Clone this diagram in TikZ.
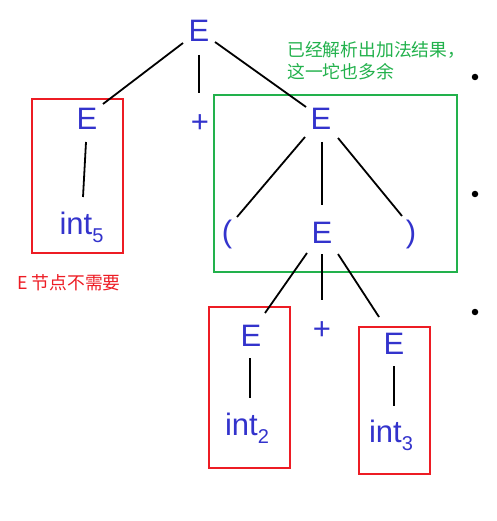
\documentclass[tikz,border=0pt]{standalone}
\usepackage{fontspec}
\setmainfont{Liberation Sans}
\newfontfamily\cjk{Noto Sans CJK SC}
\definecolor{tblue}{RGB}{51,51,204}
\definecolor{tgreen}{RGB}{34,177,76}
\definecolor{tred}{RGB}{237,28,36}
\newcommand\lsub[1]{\raisebox{-8pt}{\fontsize{20}{20}\selectfont #1}}
\tikzset{
  sym/.style={inner sep=0pt, anchor=base, text=tblue, font=\fontsize{31}{31}\selectfont},
  edge/.style={draw=black, line width=1.8pt},
  redbox/.style={draw=tred, line width=2pt},
  greenbox/.style={draw=tgreen, line width=2pt},
  note/.style={inner sep=0pt, anchor=base west, font=\cjk\fontsize{17.8}{17.8}\selectfont},
  bullet/.style={circle, fill=black, inner sep=0pt, minimum size=6.5pt}
}
\begin{document}
\begin{tikzpicture}[x=1pt,y=-1pt]
\useasboundingbox (0,0) rectangle (496,521);
% nodes
\node[sym] (E0) at (199,42) {E};
\node[sym] (El) at (87,130) {E};
\node[sym] (p1) at (200,133) {+};
\node[sym] (Er) at (321,130) {E};
\node[sym] (int5) at (81.5,234) {int\lsub{5}};
\node[sym] (lp) at (227,242) {(};
\node[sym] (Em) at (322,243) {E};
\node[sym] (rp) at (411,242) {)};
\node[sym] (Ell) at (251,346) {E};
\node[sym] (p2) at (322,339) {+};
\node[sym] (Elr) at (394,354) {E};
\node[sym] (int2) at (247,435) {int\lsub{2}};
\node[sym] (int3) at (391,442) {int\lsub{3}};
% boxes
\node[redbox, inner sep=0pt, minimum width=91pt, minimum height=154pt] (bl) at (77.5,176) {};
\node[greenbox, inner sep=0pt, minimum width=243pt, minimum height=177pt] (bg) at (335.5,183.5) {};
\node[redbox, inner sep=0pt, minimum width=81pt, minimum height=161pt] (bll) at (249.5,387.5) {};
\node[redbox, inner sep=0pt, minimum width=71pt, minimum height=147pt] (blr) at (394.5,400.5) {};
% edges
\draw[edge] ([shift={(-16,1)}]E0.base) -- ([shift={(16,-26)}]El.base);
\draw[edge] ([shift={(0,13)}]E0.base) -- ([shift={(-1,-40)}]p1.base);
\draw[edge] ([shift={(16,0)}]E0.base) -- ([shift={(-15,-23)}]Er.base);
\draw[edge] ([shift={(-1,12)}]El.base) -- ([shift={(1.5,-37)}]int5.base);
\draw[edge] ([shift={(-16,7)}]Er.base) -- ([shift={(10,-25)}]lp.base);
\draw[edge] ([shift={(1,12)}]Er.base) -- ([shift={(0,-38)}]Em.base);
\draw[edge] ([shift={(17,8)}]Er.base) -- ([shift={(-9,-26)}]rp.base);
\draw[edge] ([shift={(-15,10)}]Em.base) -- ([shift={(14,-33)}]Ell.base);
\draw[edge] ([shift={(0,11)}]Em.base) -- ([shift={(0,-39)}]p2.base);
\draw[edge] ([shift={(16,11)}]Em.base) -- ([shift={(-15,-37)}]Elr.base);
\draw[edge] ([shift={(-1,12)}]Ell.base) -- ([shift={(-1,52)}]Ell.base);
\draw[edge] ([shift={(0,12)}]Elr.base) -- ([shift={(0,52)}]Elr.base);
% notes
\node[note, text=tgreen] (g1) at (287,56.5) {已经解析出加法结果，};
\node[note, text=tgreen] (g2) at (287,79) {这一坨也多余};
\node[note, text=tred] (r1) at (17,289) {E 节点不需要};
% bullets
\node[bullet] (b1) at (475,77) {};
\node[bullet] (b2) at (475,194) {};
\node[bullet] (b3) at (475,312) {};
\end{tikzpicture}
\end{document}
